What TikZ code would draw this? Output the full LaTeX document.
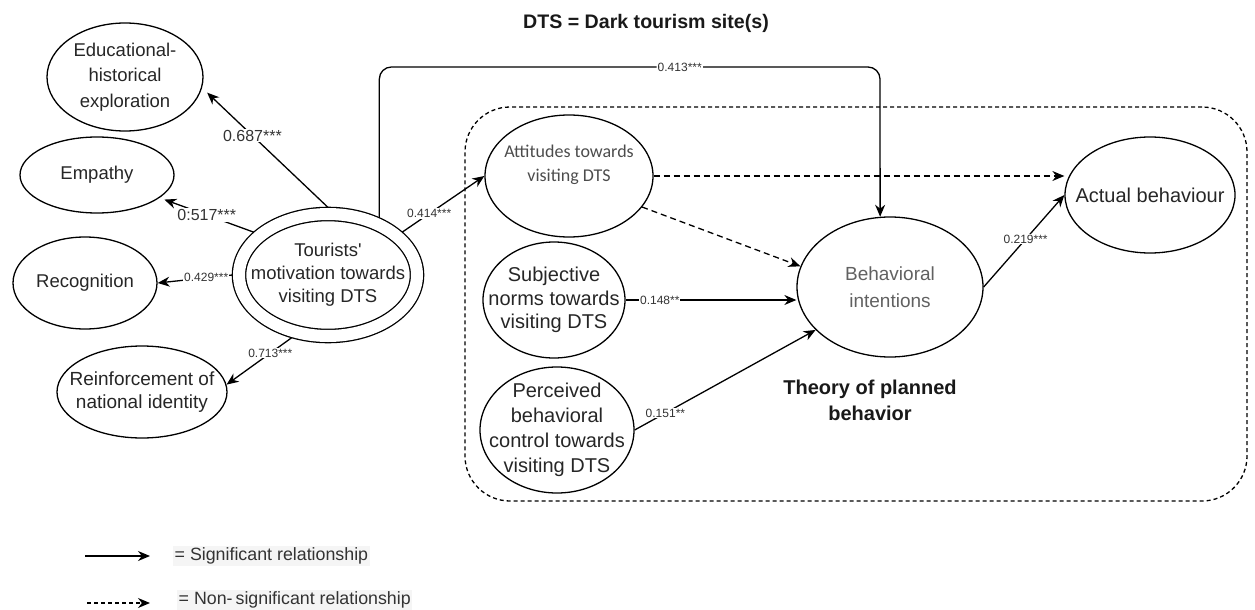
\documentclass[tikz,border=0pt]{standalone}
\usepackage{fontspec}
\setmainfont{Liberation Sans}
\newfontfamily\califont{Carlito}
\usetikzlibrary{shapes.geometric,arrows.meta}
\begin{document}
\begin{tikzpicture}[x=1pt,y=-1pt,
  ell/.style={ellipse,draw,line width=1.3pt,inner sep=0pt,outer sep=0.65pt},
  txt/.style={align=center,text=black!85,inner sep=0pt,font=\fontsize{18.5}{23}\selectfont},
  sig/.style={line width=1.3pt,-{Stealth[length=12pt,width=10pt]}},
  nsig/.style={sig,dash pattern=on 6pt off 4pt},
  lbl/.style={fill=white,inner sep=1pt,text=black!80,font=\fontsize{12}{14}\selectfont},
  biglbl/.style={lbl,font=\fontsize{16}{18}\selectfont},
  legtxt/.style={anchor=west,fill=gray!8,inner sep=1.5pt,text=black!80,font=\fontsize{17.8}{20}\selectfont},
]
\useasboundingbox (0,0) rectangle (1255,610);

% title
\node[font=\bfseries\fontsize{19.6}{22}\selectfont,text=black!90] (title) at (646,23) {DTS = Dark tourism site(s)};

% theory of planned behaviour box
\node[draw,rectangle,line width=1.3pt,dash pattern=on 4pt off 3pt,rounded corners=45pt,
      minimum width=782pt,minimum height=394pt,inner sep=0pt] (box) at (856,304) {};
\node[align=center,font=\bfseries\fontsize{20}{26}\selectfont,text=black!90] (tpb) at (870,400) {Theory of planned\\behavior};

% left constructs
\node[ell,minimum width=156pt,minimum height=108pt,
      label={[txt,font=\fontsize{18.5}{25.5}\selectfont]center:{Educational-\\historical\\exploration}}] (Edu) at (125,77) {};
\node[ell,minimum width=154pt,minimum height=76pt,label={[txt]center:Empathy}] (Emp) at (97,175) {};
\node[ell,minimum width=144pt,minimum height=92pt,label={[txt]center:Recognition}] (Rec) at (85,283) {};
\node[ell,minimum width=170pt,minimum height=92pt,
      label={[txt,font=\fontsize{19}{23}\selectfont]center:{Reinforcement of\\national identity}}] (Reinf) at (142,392) {};

% central motivation construct (double ellipse)
\node[ell,double,double distance=12pt,minimum width=178pt,minimum height=122pt,outer sep=6.6pt,
      label={[txt,font=\fontsize{18.5}{23}\selectfont]center:{Tourists\textquotesingle\\motivation towards\\visiting DTS}}] (T) at (328,275) {};

% TPB constructs
\node[ell,minimum width=168pt,minimum height=122pt] (Att) at (569,176) {};
\node[align=center,text=black!70,inner sep=0pt,font=\califont\fontsize{18}{24}\selectfont] (atttxt) at (569,165) {Attitudes towards\\visiting DTS};
\node[ell,minimum width=142pt,minimum height=116pt,
      label={[txt,font=\fontsize{20}{23.5}\selectfont]center:{Subjective\\norms towards\\visiting DTS}}] (Sub) at (554,300) {};
\node[ell,minimum width=154pt,minimum height=126pt,
      label={[txt,font=\fontsize{20}{25}\selectfont]center:{Perceived\\behavioral\\control towards\\visiting DTS}}] (Per) at (557,430) {};
\node[ell,minimum width=186pt,minimum height=140pt,
      label={[txt,text=black!62,font=\fontsize{19}{27}\selectfont]center:{Behavioral\\intentions}}] (BI) at (890,287) {};
\node[ell,minimum width=170pt,minimum height=116pt,
      label={[txt,font=\fontsize{20}{23}\selectfont]center:{Actual behaviour}}] (Act) at (1150,195) {};

% connectors from motivation
\draw[sig,shorten >=7pt] (T.north) -- node[biglbl,pos=.6]{0.687***} (Edu.-8);
\draw[sig,shorten >=5pt] (T.150) -- node[biglbl,pos=.5]{0:517***} (Emp);
\draw[sig] (T.west) -- node[lbl,pos=.35]{0.429***} (Rec.east);
\draw[sig] (T.-120) -- node[lbl,pos=.33]{0.713***} (Reinf.5);
\draw[sig] (T.30) -- node[lbl,pos=.33]{0.414***} (Att.west);
\coordinate (top) at (880,67);
\draw[sig,rounded corners=12pt] (T.48) |- node[lbl,pos=.8]{0.413***} (top) -- (BI.98);

% TPB connectors
\draw[sig] (Sub.east) -- node[lbl,pos=.2]{0.148**} (Sub.east -| BI.west);
\draw[sig] (Per.east) -- node[lbl,pos=.17]{0.151**} (BI.-150);
\draw[nsig] (Att.-23) -- (BI.167);
\draw[nsig] (Att.east) -- (Att.east -| Act.west);
\draw[sig] (BI.east) -- node[lbl,pos=.52]{0.219***} (Act.west);

% legend
\coordinate (l1a) at (85,556);
\coordinate (l1b) at (150,556);
\draw[sig] (l1a) -- (l1b);
\node[legtxt] (leg1) at (173,556) {= Significant relationship};
\coordinate (l2a) at (87,603);
\coordinate (l2b) at (150,603);
\draw[sig,dash pattern=on 4pt off 3pt] (l2a) -- (l2b);
\node[legtxt] (leg2) at (177,600) {= Non-\kern3pt significant relationship};
\end{tikzpicture}
\end{document}
